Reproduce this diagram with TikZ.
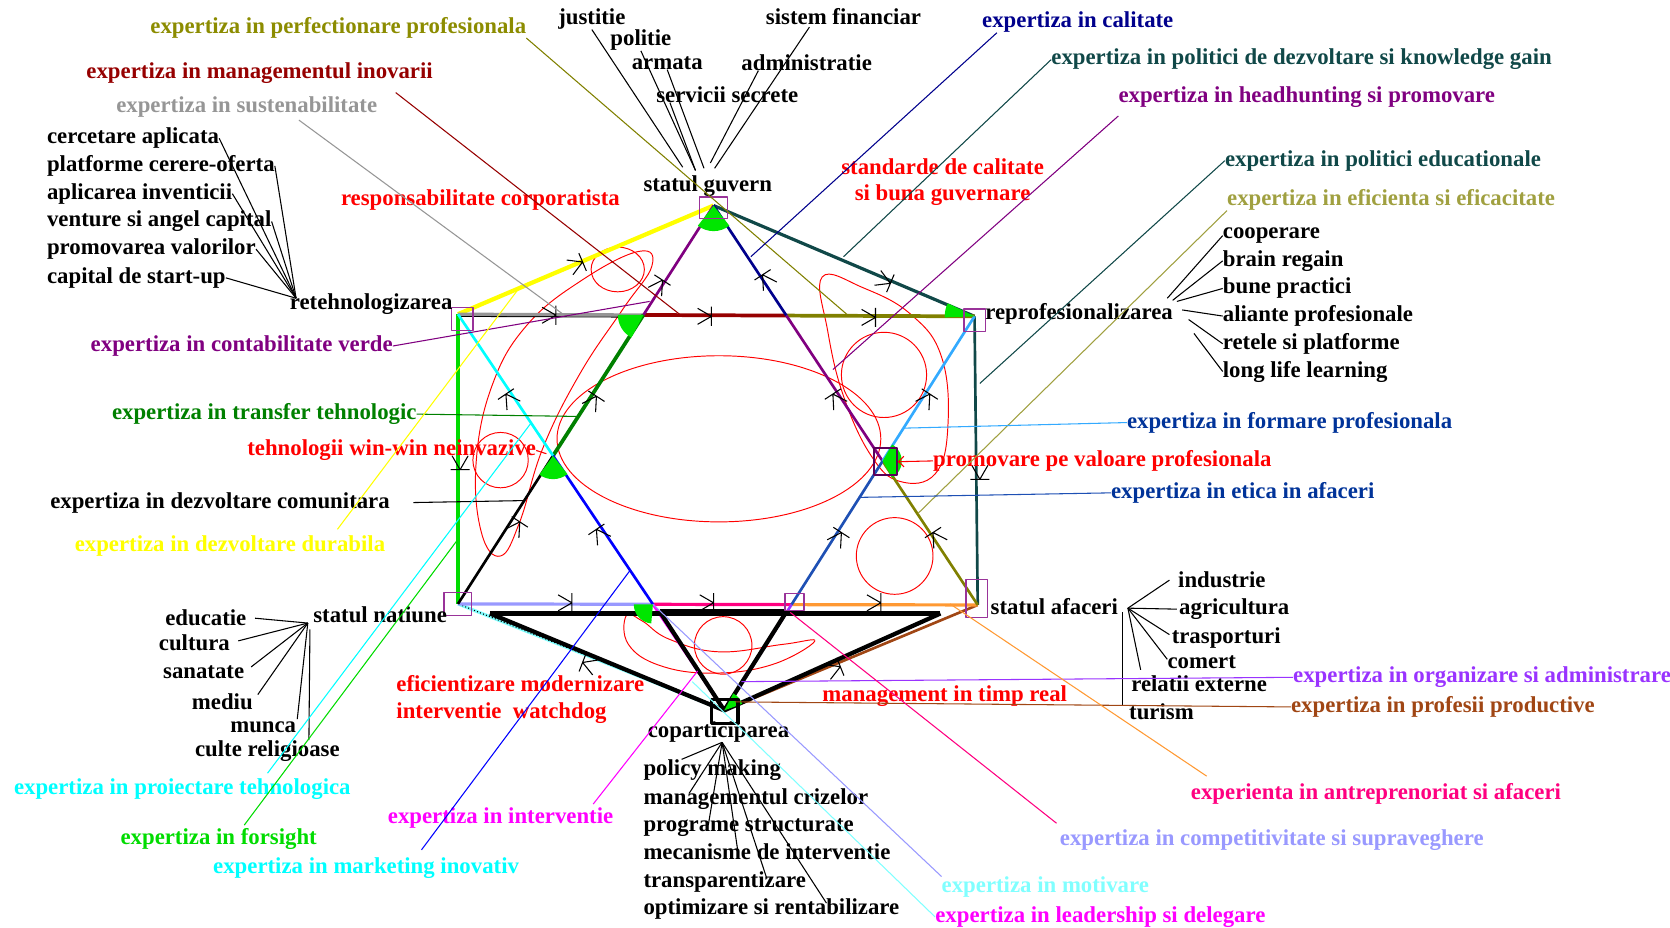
\documentclass[tikz,border=0pt]{standalone}
\usepackage{fontspec}
\setmainfont{Liberation Serif}
\usetikzlibrary{calc, arrows.meta}

\definecolor{olivetx}{RGB}{140,140,0}
\definecolor{olivec}{RGB}{128,128,0}
\definecolor{darkred}{RGB}{150,0,0}
\definecolor{greytx}{RGB}{150,150,150}
\definecolor{navyc}{RGB}{0,0,140}
\definecolor{slatec}{RGB}{16,72,72}
\definecolor{purplec}{RGB}{128,0,128}
\definecolor{khakic}{RGB}{160,160,64}
\definecolor{dkgreen}{RGB}{0,128,0}
\definecolor{brgreen}{RGB}{0,220,0}
\definecolor{formtx}{RGB}{0,51,153}
\definecolor{dodger}{RGB}{51,170,255}
\definecolor{royal}{RGB}{30,80,180}
\definecolor{violetc}{RGB}{153,51,255}
\definecolor{brownc}{RGB}{160,70,20}
\definecolor{deeppink}{RGB}{255,0,128}
\definecolor{lavender}{RGB}{153,153,255}
\definecolor{ltcyan}{RGB}{128,255,255}
\definecolor{orangec}{RGB}{255,153,51}
\definecolor{boxpur}{RGB}{153,51,153}
\definecolor{dkpurple}{RGB}{90,0,90}
\definecolor{wedgegr}{RGB}{0,230,0}
\definecolor{cyanc}{RGB}{0,255,255}
\definecolor{magentac}{RGB}{255,0,255}
\definecolor{yellowc}{RGB}{255,255,0}
\definecolor{bluec}{RGB}{0,0,255}
\definecolor{redc}{RGB}{255,0,0}

\newcommand{\lblfont}{\fontsize{21.4}{25}\selectfont\bfseries}

\begin{document}
\begin{tikzpicture}[x=1pt, y=-1pt, line join=round,
    lbl/.style={font=\lblfont, inner sep=0pt, anchor=base west},
    leader/.style={line width=1pt},
    vbox/.style={draw=boxpur, line width=1.2pt, inner sep=0pt},
    redloop/.style={draw=redc, line width=0.9pt},
    wedge/.style={fill=wedgegr},
    arrmark/.style={line width=1pt}]
\useasboundingbox (0,0) rectangle (1568,871);

% corners of the hexagon
\coordinate (G) at (670,193);
\coordinate (R) at (430,295);
\coordinate (P) at (915,297);
\coordinate (N) at (430,567);
\coordinate (A) at (918,568);
\coordinate (C) at (680,667);
% crossings of the star
\coordinate (X1) at (intersection of G--N and R--P);
\coordinate (X2) at (intersection of G--A and R--P);
\coordinate (X3) at (intersection of G--N and R--C);
\coordinate (X4) at (intersection of G--A and P--C);
\coordinate (X5) at (intersection of R--C and N--A);
\coordinate (X6) at (intersection of P--C and N--A);

% red loops
\draw[redloop] (675,412) ellipse [x radius=152, y radius=78];
\draw[redloop] (830,352) circle [radius=40];
\draw[redloop] (840,522) circle [radius=36];
\draw[redloop] (470,432) circle [radius=26];
\draw[redloop] (679,606) circle [radius=27];
\draw[redloop] (580,253) ellipse [x radius=25, y radius=21];
\draw[redloop] plot[smooth cycle, tension=0.7] coordinates {(600,236) (548,262) (495,305) (462,362) (447,435) (452,500) (470,522) (488,490) (510,420) (545,350) (585,290) (612,250)};
\draw[redloop] plot[smooth cycle, tension=0.7] coordinates {(772,260) (777,310) (792,372) (818,428) (845,452) (878,445) (890,400) (884,335) (855,295) (810,270)};
\draw[redloop] plot[smooth cycle, tension=0.7] coordinates {(588,578) (590,605) (620,625) (670,632) (725,624) (765,602) (735,605) (675,612) (628,600) (603,583)};

% hexagon
\draw[yellowc, line width=4pt] (R) -- (G);
\draw[slatec, line width=3pt] (G) -- (P);
\draw[slatec, line width=2.5pt] (P) -- (A);
\draw[brownc, line width=2.5pt] (A) -- (C);
\draw[ltcyan, line width=3pt] (C) -- (N);
\draw[dotted, line width=1pt] (C) -- (N);
\draw[brgreen, line width=3pt] (N) -- (R);
\draw[line width=1pt] ($(R)+(0,2)$) -- ($(X1)+(0,2)$);
\draw[greytx, line width=3pt] (R) -- (X1);
\draw[darkred, line width=3.5pt] (X1) -- (X2);
\draw[olivec, line width=3.5pt] (X2) -- (P);
\draw[lavender, line width=3pt] (N) -- (X5);
\draw[deeppink, line width=3pt] (X5) -- (X6);
\draw[orangec, line width=3pt] (X6) -- (A);

% star
\draw[purplec, line width=2.5pt] (G) -- (X1);
\draw[dkgreen, line width=3.5pt] (X1) -- (X3);
\draw[line width=2.5pt] (X3) -- (N);
\draw[navyc, line width=2.5pt] (G) -- (X2);
\draw[purplec, line width=2.5pt] (X2) -- (X4);
\draw[olivec, line width=2.5pt] (X4) -- (A);
\draw[cyanc, line width=2.5pt] (R) -- (X3);
\draw[bluec, line width=2.5pt] (X3) -- (X5);
\draw[magentac, line width=2.5pt] (X5) -- (C);
\draw[dodger, line width=2.5pt] (P) -- (X4);
\draw[royal, line width=2.5pt] (X4) -- (X6);
\draw[violetc, line width=2.5pt] (X6) -- (C);

% black triangle at the bottom
\coordinate (W1) at (460,576);
\coordinate (W2) at (620,575);
\coordinate (W3) at (738,575);
\coordinate (W4) at (883,576);
\draw[line width=4pt] (W1) -- (W4);
\draw[line width=7pt] (W2) -- (W3);
\draw[line width=4pt] (W1) -- (C) -- (W4);
\draw[line width=4pt] (W2) -- (C) -- (W3);

% green angles
\fill[wedge] (G) -- ++(52:24) arc[start angle=52, end angle=128, radius=24] -- cycle;
\fill[wedge] (X1) -- ++(118:24) arc[start angle=118, end angle=180, radius=24] -- cycle;
\fill[wedge] (X3) -- ++(52:22) arc[start angle=52, end angle=126, radius=22] -- cycle;
\fill[wedge] (P) -- ++(178:28) arc[start angle=178, end angle=206, radius=28] -- cycle;
\fill[wedge] (X4) -- ++(-60:18) arc[start angle=-60, end angle=60, radius=18] -- cycle;
\fill[wedge] (X5) -- ++(95:18) arc[start angle=95, end angle=180, radius=18] -- cycle;
\fill[wedge] (C) -- ++(-62:18) arc[start angle=-62, end angle=-20, radius=18] -- cycle;

% boxes
\node[vbox, minimum width=20, minimum height=21] (rbox) at (434,299.5) {};
\node[vbox, minimum width=26, minimum height=20] (gbox) at (670,195) {};
\node[vbox, minimum width=20, minimum height=21] (pbox) at (915,300.5) {};
\node[vbox, minimum width=26, minimum height=22] (nbox) at (430,567) {};
\node[vbox, minimum width=20, minimum height=36] (abox) at (917,562) {};
\node[vbox, minimum width=18, minimum height=16] (x6box) at (746,565) {};
\node[draw=dkpurple, line width=2pt, inner sep=0pt, minimum width=21, minimum height=25] (x4box) at (831.5,433.5) {};
\node[draw, line width=3pt, inner sep=0pt, minimum width=25, minimum height=22] (cbox) at (680.5,668) {};

% hand drawn arrows
\foreach \x/\y/\a in {522/296/0, 668/297/0, 822/298/0, 836/266/23, 547/246/-23,
    622/263/-57, 716/258/237, 475/370/236, 560/372/-57, 782/370/237, 873/370/-57,
    488/490/-57, 560/497/236, 790/500/-57, 876/500/237, 432/441/90, 920/450/90,
    537/566/0, 670/566/0, 827/566/0, 547/622/201, 789/626/-22}
  \draw[arrmark] (\x,\y) ++(\a+150:15) -- (\x,\y) -- ++(\a-150:15)
    (\x,\y) ++(\a+90:9) -- ++(\a-90:18);

% labels
\node[lbl, olivetx] (perf) at (141,31) {expertiza in perfectionare profesionala};
\node[lbl, darkred] (inov) at (81,74) {expertiza in managementul inovarii};
\node[lbl, greytx] (sust) at (109,106) {expertiza in sustenabilitate};
\node[lbl] (cerc) at (44,135) {cercetare aplicata};
\node[lbl] (plat) at (44,161) {platforme cerere-oferta};
\node[lbl] (apli) at (44,187) {aplicarea inventicii};
\node[lbl] (vent) at (44,213) {venture si angel capital};
\node[lbl] (prom) at (44,239) {promovarea valorilor};
\node[lbl] (capi) at (44,266) {capital de start-up};
\node[lbl] (rteh) at (272,291) {retehnologizarea};
\node[lbl, redc] (resp) at (320,193) {responsabilitate corporatista};
\node[lbl] (just) at (524,23) {justitie};
\node[lbl] (poli) at (573,43) {politie};
\node[lbl] (arma) at (593,65) {armata};
\node[lbl] (serv) at (616,96) {servicii secrete};
\node[lbl] (sist) at (719,23) {sistem financiar};
\node[lbl] (admi) at (696,66) {administratie};
\node[lbl] (guv) at (604,180) {statul guvern};
\node[lbl, navyc] (cal) at (922,26) {expertiza in calitate};
\node[lbl, slatec] (know) at (987,61) {expertiza in politici de dezvoltare si knowledge gain};
\node[lbl, purplec] (head) at (1050,96) {expertiza in headhunting si promovare};
\node[font=\lblfont, redc, align=center, inner sep=0pt] (stdq) at (885,171) {standarde de calitate\\si buna guvernare};
\node[lbl, slatec] (edup) at (1150,156) {expertiza in politici educationale};
\node[lbl, khakic] (efic) at (1152,193) {expertiza in eficienta si eficacitate};
\node[lbl] (coop) at (1148,224) {cooperare};
\node[lbl] (brai) at (1148,250) {brain regain};
\node[lbl] (bune) at (1148,276) {bune practici};
\node[lbl] (alia) at (1148,302) {aliante profesionale};
\node[lbl] (rete) at (1148,328) {retele si platforme};
\node[lbl] (long) at (1148,354) {long life learning};
\node[lbl] (rprf) at (925,300) {reprofesionalizarea};
\node[lbl, purplec] (cont) at (85,330) {expertiza in contabilitate verde};
\node[lbl, dkgreen] (trns) at (105,394) {expertiza in transfer tehnologic};
\node[lbl, redc] (wwin) at (232,428) {tehnologii win-win neinvazive};
\node[lbl] (comu) at (47,477) {expertiza in dezvoltare comunitara};
\node[lbl, yellowc] (dura) at (70,518) {expertiza in dezvoltare durabila};
\node[lbl, formtx] (form) at (1058,402) {expertiza in formare profesionala};
\node[lbl, redc] (prov) at (876,438) {promovare pe valoare profesionala};
\node[lbl, formtx] (etic) at (1043,468) {expertiza in etica in afaceri};
\node[lbl] (nat) at (294,584) {statul natiune};
\node[lbl] (educ) at (155,587) {educatie};
\node[lbl] (cult) at (149,611) {cultura};
\node[lbl] (sana) at (153,637) {sanatate};
\node[lbl] (medi) at (180,666) {mediu};
\node[lbl] (munc) at (216,688) {munca};
\node[lbl] (relg) at (183,710) {culte religioase};
\node[lbl, cyanc] (proi) at (13,746) {expertiza in proiectare tehnologica};
\node[lbl, brgreen] (fors) at (113,793) {expertiza in forsight};
\node[lbl, cyanc] (mkt) at (200,820) {expertiza in marketing inovativ};
\node[lbl, magentac] (intv) at (364,773) {expertiza in interventie};
\node[font=\lblfont, redc, align=left, inner sep=0pt, anchor=west] (efz) at (372,657) {eficientizare modernizare\\interventie\ \ watchdog};
\node[lbl] (copa) at (608,692) {coparticiparea};
\node[lbl] (polm) at (604,728) {policy making};
\node[lbl] (mgcr) at (604,755) {managementul crizelor};
\node[lbl] (prgs) at (604,781) {programe structurate};
\node[lbl] (mecn) at (604,807) {mecanisme de interventie};
\node[lbl] (trsp) at (604,833) {transparentizare};
\node[lbl] (optm) at (604,859) {optimizare si rentabilizare};
\node[lbl] (afac) at (930,577) {statul afaceri};
\node[lbl] (indu) at (1106,552) {industrie};
\node[lbl] (agri) at (1107,577) {agricultura};
\node[lbl] (tras) at (1100,604) {trasporturi};
\node[lbl] (come) at (1096,628) {comert};
\node[lbl] (rela) at (1062,649) {relatii externe};
\node[lbl] (turi) at (1060,676) {turism};
\node[lbl, redc] (mtr) at (772,659) {management in timp real};
\node[lbl, violetc] (orgz) at (1214,641) {expertiza in organizare si administrare};
\node[lbl, brownc] (prfs) at (1212,669) {expertiza in profesii productive};
\node[lbl, deeppink] (antr) at (1118,751) {experienta in antreprenoriat si afaceri};
\node[lbl, lavender] (comp) at (995,794) {expertiza in competitivitate si supraveghere};
\node[lbl, ltcyan] (motv) at (884,838) {expertiza in motivare};
\node[lbl, magentac] (ldsh) at (878,866) {expertiza in leadership si delegare};

% ends of the leaders
\coordinate (qperf) at (795,295);
\coordinate (qinov) at (638,295);
\coordinate (qsust) at (530,296);
\coordinate (rc) at (278,280);
\coordinate (qcal) at (705,241);
\coordinate (qknow) at (792,241);
\coordinate (qhead) at (782,347);
\coordinate (qedup) at (920,360);
\coordinate (qefic) at (862,482);
\coordinate (pc) at (1104,286);
\coordinate (qcont) at (610,283);
\coordinate (qtrns) at (543,391);
\coordinate (qwwin) at (513,426);
\coordinate (qcomu) at (492,470);
\coordinate (qdura) at (487,271);
\coordinate (nc) at (289,585);
\coordinate (qproi) at (498,398);
\coordinate (qfors) at (431,505);
\coordinate (qmkt) at (592,535);
\coordinate (qintv) at (655,630);
\coordinate (cc) at (678,697);
\coordinate (ac) at (1059,571);
\coordinate (qform) at (848,402);
\coordinate (qetic) at (806,467);
\coordinate (qorgz) at (696,640);
\coordinate (qprfs) at (690,659);
\coordinate (qantr) at (892,567);
\coordinate (qcomp) at (742,575);
\coordinate (qldsh) at (650,640);

% leaders
\draw[leader, olivec] (perf.south east) -- (qperf);
\draw[leader, darkred] ($(inov.south east)+(-35,8)$) -- (qinov);
\draw[leader, greytx] ($(sust.south)+(49,2)$) -- (qsust);
\foreach \n in {cerc, plat, apli, vent, prom, capi}
  \draw[leader] (\n.east) -- (rc);
\draw[leader] (just.south) -- (641,157);
\draw[leader] (poli.south) -- (653,160);
\draw[leader] (arma.south) -- (661,158);
\draw[leader] ($(serv.south west)+(13,0)$) -- (653,160);
\draw[leader] ($(admi.south west)+(16,0)$) -- (667,153);
\draw[leader] ($(sist.south west)+(41,2)$) -- (671,158);
\draw[leader, navyc] ($(cal.south west)+(14,0)$) -- (qcal);
\draw[leader, slatec] (know.west) -- (qknow);
\draw[leader, purplec] ($(head.south west)+(0,8)$) -- (qhead);
\draw[leader, slatec] (edup.west) -- (qedup);
\draw[leader, khakic] (efic.south west) -- (qefic);
\draw[leader] (coop.west) -- ($(pc)+(-8,-6)$);
\draw[leader] (brai.west) -- ($(pc)+(-3,-4)$);
\draw[leader] (bune.west) -- ($(pc)+(1,-3)$);
\draw[leader] (alia.west) -- ($(pc)+(6,5)$);
\draw[leader] (rete.west) -- ($(pc)+(12,14)$);
\draw[leader] (long.west) -- ($(pc)+(17,27)$);
\draw[leader, purplec] (cont.east) -- (qcont);
\draw[leader, dkgreen] (trns.east) -- (qtrns);
\draw[leader, redc] (wwin.east) -- (qwwin);
\draw[leader] ($(comu.east)+(22,0)$) -- (qcomu);
\draw[leader, yellowc] ($(dura.north east)+(-45,-6)$) -- (qdura);
\foreach \n in {educ, cult, sana, medi, munc}
  \draw[leader, shorten <=8pt] (\n.east) -- (nc);
\draw[leader] ($(relg.north)+(39,0)$) -- ($(nc)+(2,6)$);
\draw[leader, cyanc] ($(proi.north)+(80,-5)$) -- (qproi);
\draw[leader, brgreen] ($(fors.north)+(24,-3)$) -- (qfors);
\draw[leader, bluec] ($(mkt.north)+(52,-7)$) -- (qmkt);
\draw[leader, magentac] ($(intv.north east)+(-19,-3)$) -- (qintv);
\draw[leader] (cc) -- ($(polm.north west)+(36,0)$);
\draw[leader] (cc) -- ($(mgcr.north west)+(43,5)$);
\draw[leader] (cc) -- ($(prgs.north west)+(61,6)$);
\draw[leader] (cc) -- ($(mecn.north west)+(89,9)$);
\draw[leader] (cc) -- ($(trsp.north west)+(116,7)$);
\draw[leader] (cc) -- ($(optm.north west)+(172,4)$);
\draw[leader] (ac) -- ($(indu.west)+(-8,0)$);
\draw[leader] (ac) -- ($(agri.west)+(-2,0)$);
\draw[leader] (ac) -- ($(tras.west)+(-2,-3)$);
\draw[leader] (ac) -- ($(come.west)+(0,-3)$);
\draw[leader] (ac) -- ($(rela.north west)+(9,-5)$);
\draw[leader] ($(ac)+(-5,4)$) -- ($(turi.west)+(-6,-6)$);
\draw[leader, redc, -{Straight Barb[length=5pt]}] (prov.west) -- (x4box.east);
\draw[leader, dodger] (qform) -- (form.west);
\draw[leader, royal] (qetic) -- (etic.west);
\draw[leader, violetc] (qorgz) -- (orgz.west);
\draw[leader, brownc] (qprfs) -- (prfs.west);
\draw[leader, orangec] (qantr) -- ($(antr.north west)+(15,-7)$);
\draw[leader, deeppink] (qcomp) -- ($(comp.north west)+(-3,-6)$);
\draw[leader, lavender] (X5) -- (motv.north west);
\draw[leader, ltcyan] (qldsh) -- (ldsh.west);
\end{tikzpicture}
\end{document}
